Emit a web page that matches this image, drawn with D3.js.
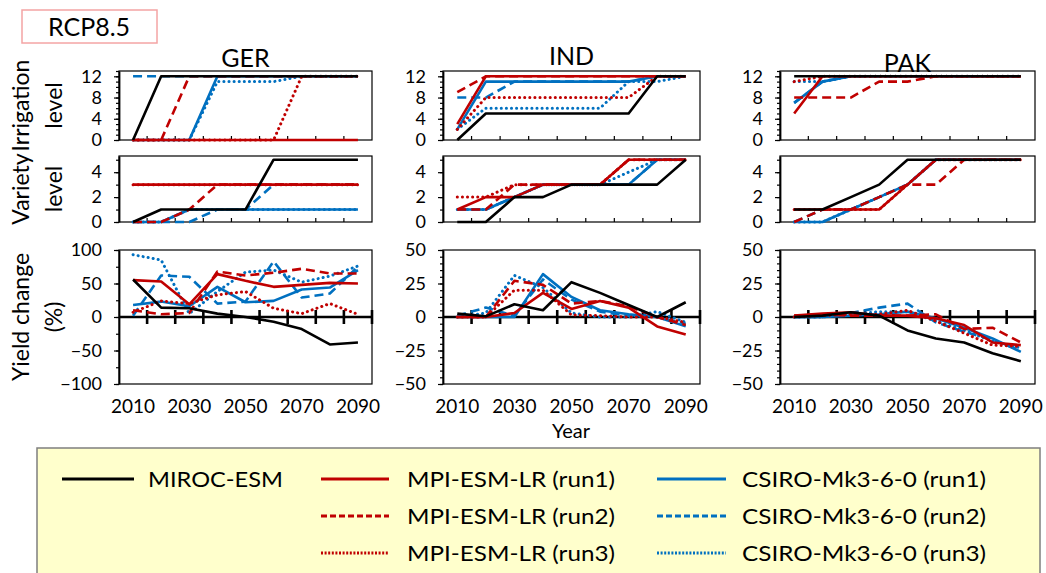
<!DOCTYPE html>
<html><head><meta charset="utf-8">
<script src="https://cdn.jsdelivr.net/npm/d3@7"></script>
<style>
body{margin:0;background:#fff;}
text{font-family:Lato,"Open Sans",sans-serif;fill:#000;}
</style>
</head><body>
<svg id="chart" width="1046" height="573"></svg>
<script>
// ---------------- DATA ----------------
const years = [2010, 2020, 2030, 2040, 2050, 2060, 2070, 2080, 2090];
const yearLabels = [2010, 2030, 2050, 2070, 2090];
const countries = ["GER", "IND", "PAK"];
const seriesNames = ["MIROC-ESM", "MPI-ESM-LR (run1)", "MPI-ESM-LR (run2)", "MPI-ESM-LR (run3)",
  "CSIRO-Mk3-6-0 (run1)", "CSIRO-Mk3-6-0 (run2)", "CSIRO-Mk3-6-0 (run3)"];

// rows in order of seriesNames
const gerIrrigation = [
  [0, 12, 12, 12, 12, 12, 12, 12, 12],
  [0, 0, 0, 0, 0, 0, 0, 0, 0],
  [0, 0, 12, 12, 12, 12, 12, 12, 12],
  [0, 0, 0, 0, 0, 0, 12, 12, 12],
  [0, 0, 0, 12, 12, 12, 12, 12, 12],
  [12, 12, 12, 12, 12, 12, 12, 12, 12],
  [0, 0, 0, 11, 11, 11, 12, 12, 12]
];
const gerVariety = [
  [0, 1, 1, 1, 1, 5, 5, 5, 5],
  [3, 3, 3, 3, 3, 3, 3, 3, 3],
  [0, 0, 1, 3, 3, 3, 3, 3, 3],
  [3, 3, 3, 3, 3, 3, 3, 3, 3],
  [0, 0, 1, 1, 1, 1, 1, 1, 1],
  [0, 0, 0, 1, 1, 3, 3, 3, 3],
  [0, 0, 1, 1, 1, 1, 1, 1, 1]
];
const gerYield = [
  [56, 14, 13, 5, 0, -7, -18, -41, -38],
  [55, 53, 19, 64, 54, 45, 48, 51, 50],
  [10, 4, 6, 68, 62, 66, 72, 65, 65],
  [7, 24, 20, 33, 38, 13, 5, 20, 4],
  [18, 23, 16, 45, 22, 24, 41, 44, 70],
  [2, 62, 60, 20, 23, 83, 29, 35, 75],
  [93, 85, 5, 38, 67, 70, 52, 61, 76]
];
const indIrrigation = [
  [0, 5, 5, 5, 5, 5, 5, 12, 12],
  [3, 12, 12, 12, 12, 12, 12, 12, 12],
  [9, 12, 12, 12, 12, 12, 12, 12, 12],
  [2, 8, 8, 8, 8, 8, 8, 12, 12],
  [2, 11, 11, 11, 11, 11, 11, 12, 12],
  [8, 8, 11, 11, 11, 11, 11, 12, 12],
  [2, 6, 6, 6, 6, 6, 11, 11, 12]
];
const indVariety = [
  [0, 0, 2, 2, 3, 3, 3, 3, 5],
  [1, 2, 2, 3, 3, 3, 5, 5, 5],
  [1, 1, 3, 3, 3, 3, 5, 5, 5],
  [2, 2, 3, 3, 3, 3, 5, 5, 5],
  [1, 1, 2, 3, 3, 3, 3, 5, 5],
  [1, 1, 2, 3, 3, 3, 3, 5, 5],
  [1, 1, 2, 3, 3, 3, 4, 5, 5]
];
const indYield = [
  [2.5, 0.5, 9.5, 5, 26, 18, 9, 0, 11],
  [0, 0, 3, 18, 6, 12, 7, -7, -13],
  [0, 0, 27, 24, 10, 12, 8, 0, -6],
  [0, 0, 20, 20, 1.5, 1, 0, 0, -4],
  [0, 0, 0, 32, 15, 5, 2, 0, -7],
  [1, 7, 1, 28, 13, 4, 1, 0, -5],
  [0, 3, 31, 22, 3, 0, 0, 4, -4]
];
const pakIrrigation = [
  [12, 12, 12, 12, 12, 12, 12, 12, 12],
  [5, 12, 12, 12, 12, 12, 12, 12, 12],
  [8, 8, 8, 11, 11, 12, 12, 12, 12],
  [11, 12, 12, 12, 12, 12, 12, 12, 12],
  [7, 11, 12, 12, 12, 12, 12, 12, 12],
  [7, 11, 12, 12, 12, 12, 12, 12, 12],
  [11, 11, 12, 12, 12, 12, 12, 12, 12]
];
const pakVariety = [
  [1, 1, 2, 3, 5, 5, 5, 5, 5],
  [1, 1, 1, 1, 3, 5, 5, 5, 5],
  [0, 1, 1, 2, 3, 3, 5, 5, 5],
  [1, 1, 1, 1, 3, 5, 5, 5, 5],
  [0, 0, 1, 2, 3, 5, 5, 5, 5],
  [0, 1, 1, 2, 3, 5, 5, 5, 5],
  [0, 0, 1, 2, 3, 5, 5, 5, 5]
];
const pakYield = [
  [0, 1, 3.5, 1, -10, -16, -19, -27, -33],
  [1, 2.5, 3.5, 1, 1, -1, -6, -19, -21],
  [1, 2, 1, 1, 1, 2, -9, -8, -19],
  [0, 1, 2, 2, 5, -3, -12, -21, -22],
  [0, 0, 1, 2, 4, -1, -8, -16, -26],
  [0, 0, 3, 7, 10, -4, -11, -17, -25],
  [0, 0, 2, 4, 4, -3, -10, -18, -23]
];

const irrigationTicks = [0, 4, 8, 12];
const varietyTicks = [0, 2, 4];
const gerYieldTicks = [-100, -50, 0, 50, 100];
const southYieldTicks = [-50, -25, 0, 25, 50];

// ---------------- STYLE / LAYOUT ----------------
const seriesColor = ["#000000", "#C00000", "#C00000", "#C00000", "#0070C0", "#0070C0", "#0070C0"];
const seriesDash = ["solid", "solid", "dashed", "dotted", "solid", "dashed", "dotted"];
const dashArray = {solid: null, dashed: "9,5", dotted: "0.1,5"};
const legendDash = {solid: null, dashed: "6,3", dotted: "2,1.6"};

const cols = [{l: 119, r: 372}, {l: 443, r: 700}, {l: 780, r: 1035}];
const titleY = [67, 65, 72];
const rowBoxes = [{t: 71, b: 140}, {t: 156, b: 222}, {t: 250, b: 384}];

const svg = d3.select("#chart");

function drawPanel(ci, ri, data, domain, ticks, minorStep, isYield) {
  const col = cols[ci], row = rowBoxes[ri];
  const g = svg.append("g");
  const x = d3.scaleBand().domain(years).range([col.l, col.r]).padding(0);
  const xc = yr => x(yr) + x.bandwidth() / 2;
  const y = d3.scaleLinear().domain(domain).range([row.b, row.t]);

  g.append("rect").attr("x", col.l).attr("y", row.t)
    .attr("width", col.r - col.l).attr("height", row.b - row.t)
    .attr("fill", "none").attr("stroke", "#000").attr("stroke-width", 1.2);

  const minors = d3.range(domain[0], domain[1] + 1e-9, minorStep);
  g.append("g").attr("transform", `translate(${col.l},0)`)
    .call(d3.axisLeft(y).tickValues(minors).tickSize(3).tickSizeOuter(0).tickFormat(""))
    .call(s => s.select(".domain").remove())
    .selectAll("line").attr("stroke-width", 1.2);

  const ya = g.append("g").attr("transform", `translate(${col.l},0)`)
    .call(d3.axisLeft(y).tickValues(ticks).tickSize(5).tickSizeOuter(0).tickPadding(12).tickFormat(d3.format("d")));
  ya.select(".domain").attr("stroke-width", 1.8);
  ya.selectAll("line").attr("stroke-width", 1.2);
  ya.selectAll("text").style("font-size", "18px").style("font-family", "Lato");

  const bounds = years.map(yr => x(yr)).slice(1);
  if (isYield) {
    const y0 = y(0);
    const allB = bounds.concat([col.r]);
    g.append("line").attr("x1", col.l).attr("x2", col.r).attr("y1", y0).attr("y2", y0)
      .attr("stroke", "#000").attr("stroke-width", 2.6);
    g.selectAll(".xt").data(allB).enter().append("line")
      .attr("x1", d => d).attr("x2", d => d).attr("y1", y0 - 7).attr("y2", y0 + 7)
      .attr("stroke", "#000").attr("stroke-width", 2.6);
    g.selectAll(".xl").data(yearLabels).enter().append("text")
      .attr("x", d => xc(d)).attr("y", 413).attr("text-anchor", "middle")
      .style("font-size", "19px").text(d => d);
  } else {
    g.selectAll(".xt").data(bounds).enter().append("line")
      .attr("x1", d => d).attr("x2", d => d).attr("y1", row.b).attr("y2", row.b - 4)
      .attr("stroke", "#000").attr("stroke-width", 1.2);
  }

  const line = d3.line().x((d, i) => xc(years[i])).y(d => y(d));
  const order = d3.range(data.length).reverse();
  order.forEach(si => {
    const st = seriesDash[si];
    g.append("path").datum(data[si])
      .attr("d", line).attr("fill", "none")
      .attr("stroke", seriesColor[si])
      .attr("stroke-width", st === "dotted" ? 3 : 2.6)
      .attr("stroke-linecap", st === "dotted" ? "round" : "butt")
      .attr("stroke-linejoin", "round")
      .attr("stroke-dasharray", dashArray[st]);
  });
}

drawPanel(0, 0, gerIrrigation, [0, 13], irrigationTicks, 1, false);
drawPanel(1, 0, indIrrigation, [0, 13], irrigationTicks, 1, false);
drawPanel(2, 0, pakIrrigation, [0, 13], irrigationTicks, 1, false);
drawPanel(0, 1, gerVariety, [0, 5.3], varietyTicks, 1, false);
drawPanel(1, 1, indVariety, [0, 5.3], varietyTicks, 1, false);
drawPanel(2, 1, pakVariety, [0, 5.3], varietyTicks, 1, false);
drawPanel(0, 2, gerYield, [-100, 100], gerYieldTicks, 25, true);
drawPanel(1, 2, indYield, [-50, 50], southYieldTicks, 5, true);
drawPanel(2, 2, pakYield, [-50, 50], southYieldTicks, 5, true);

svg.selectAll(".title").data(countries).enter().append("text")
  .attr("x", (d, i) => (cols[i].l + cols[i].r) / 2).attr("y", (d, i) => titleY[i])
  .attr("text-anchor", "middle").style("font-size", "25px").text(d => d);

const yTitles = [["Irrigation", "level"], ["Variety", "level"], ["Yield change", "(%)"]];
yTitles.forEach((lines, ri) => {
  const cy = (rowBoxes[ri].t + rowBoxes[ri].b) / 2;
  lines.forEach((t, li) => {
    svg.append("text")
      .attr("transform", `translate(${li === 0 ? 29 : 62},${cy}) rotate(-90)`)
      .attr("text-anchor", "middle").style("font-size", "23px").text(t);
  });
});

svg.append("text").attr("x", 571).attr("y", 438).attr("text-anchor", "middle")
  .style("font-size", "20px").text("Year");

svg.append("rect").attr("x", 22).attr("y", 10).attr("width", 135).attr("height", 33)
  .attr("fill", "#fff").attr("stroke", "#F4A4A4").attr("stroke-width", 1.5);
svg.append("text").attr("x", 89).attr("y", 36).attr("text-anchor", "middle")
  .style("font-size", "25px").text("RCP8.5");

// Legend
svg.append("rect").attr("x", 37).attr("y", 448).attr("width", 1003).attr("height", 140)
  .attr("fill", "#FFFFCC").attr("stroke", "#7F7F7F").attr("stroke-width", 1.5);
const legCol = [0, 1, 1, 1, 2, 2, 2];
const legRow = [0, 0, 1, 2, 0, 1, 2];
const legLineX = [62, 321, 657];
const legLineW = [72, 68, 69];
const legTextX = [148, 407, 742];
const legTextW = [135, 208, 244];
const legRowY = [479, 516, 553];
const lg = svg.append("g");
seriesNames.forEach((name, si) => {
  const c = legCol[si], r = legRow[si];
  const st = seriesDash[si];
  lg.append("line").attr("x1", legLineX[c]).attr("x2", legLineX[c] + legLineW[c])
    .attr("y1", legRowY[r]).attr("y2", legRowY[r])
    .attr("stroke", seriesColor[si]).attr("stroke-width", 3)
    .attr("stroke-dasharray", legendDash[st]);
  lg.append("text").attr("x", legTextX[c]).attr("y", legRowY[r] + 8)
    .attr("textLength", legTextW[c]).attr("lengthAdjust", "spacingAndGlyphs")
    .style("font-size", "22px").text(name);
});
</script>
</body></html>
